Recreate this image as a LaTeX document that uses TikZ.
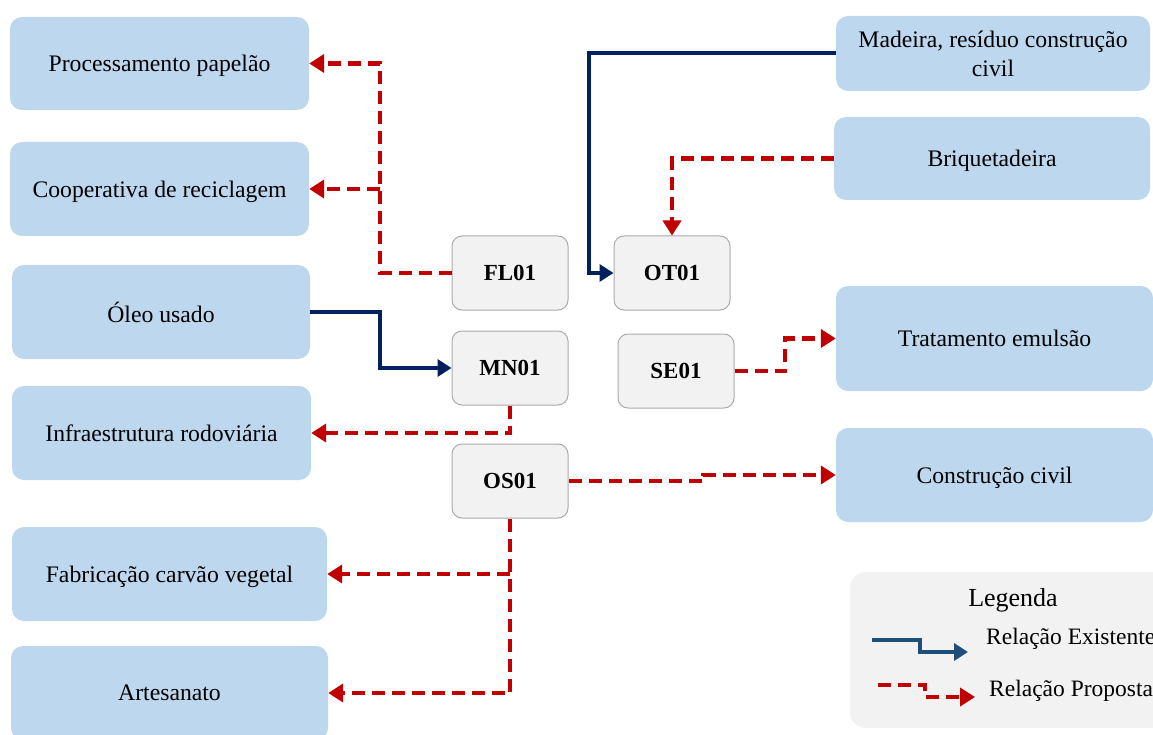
\documentclass[tikz,border=0pt]{standalone}
\usepackage{fontspec}
\setmainfont{Liberation Serif}
\usetikzlibrary{arrows.meta}
\definecolor{boxblue}{HTML}{BDD7EE}
\definecolor{boxgray}{HTML}{F2F2F2}
\definecolor{bordergray}{HTML}{ABABAB}
\definecolor{propred}{HTML}{C00000}
\definecolor{existblue}{HTML}{002060}
\definecolor{legblue}{HTML}{1F4E79}
\tikzset{
  bluebox/.style={rectangle, rounded corners=12pt, fill=boxblue, draw=none, align=center,
    font=\fontsize{23.7}{29}\selectfont, inner sep=0pt, text depth=0pt},
  codebox/.style={rectangle, rounded corners=10pt, fill=boxgray, draw=bordergray, line width=1pt,
    minimum width=116pt, minimum height=74pt, font=\fontsize{23}{27}\selectfont\bfseries, inner sep=0pt},
  prop/.style={draw=propred, line width=4.5pt, dash pattern=on 13pt off 7pt,
    -{Triangle[length=15pt,width=18pt]}},
  propnoarrow/.style={draw=propred, line width=4.5pt, dash pattern=on 13pt off 7pt},
  exist/.style={draw=existblue, line width=4pt, line join=miter,
    -{Triangle[length=14pt,width=17pt]}},
}
\begin{document}
\begin{tikzpicture}[x=1pt,y=-1pt]
\useasboundingbox (0,0) rectangle (1153,735);
\clip (0,0) rectangle (1153,735);
% left blue boxes
\node[bluebox, minimum width=299pt, minimum height=93pt] (pp) at (159.5,63.5) {Processamento papelão};
\node[bluebox, minimum width=299pt, minimum height=94pt] (coop) at (159.5,189) {Cooperativa de reciclagem};
\node[bluebox, minimum width=298pt, minimum height=94pt] (oleo) at (161,312) {Óleo usado};
\node[bluebox, minimum width=299pt, minimum height=94pt] (infra) at (161.5,433) {Infraestrutura rodoviária};
\node[bluebox, minimum width=315pt, minimum height=94pt] (carv) at (169.5,574) {Fabricação carvão vegetal};
\node[bluebox, minimum width=317pt, minimum height=94pt] (art) at (169.5,693) {Artesanato};
% right blue boxes
\node[bluebox, minimum width=314pt, minimum height=75pt, text depth=-3pt] (mad) at (993,53.5) {Madeira, resíduo construção\\civil};
\node[bluebox, minimum width=316pt, minimum height=83pt] (briq) at (992,158.5) {Briquetadeira};
\node[bluebox, minimum width=317pt, minimum height=105pt] (trat) at (994.5,338.5) {Tratamento emulsão};
\node[bluebox, minimum width=317pt, minimum height=94pt] (constr) at (994.5,475) {Construção civil};
% code boxes
\node[codebox] (fl) at (510,273) {FL01};
\node[codebox] (ot) at (672,273) {OT01};
\node[codebox] (mn) at (510,368) {MN01};
\node[codebox] (se) at (676,371) {SE01};
\node[codebox] (os) at (510,481) {OS01};
% connectors
\coordinate (jfl) at (380,273);
\draw[prop] (fl.west) -- (jfl) |- (pp.east);
\draw[prop] (jfl |- coop.east) -- (coop.east);
\coordinate (jmad) at (589,54);
\draw[exist] (mad.west) -- (mad.west -| jmad) |- (ot.west);
\draw[prop] (briq.west) -| (ot.north);
\coordinate (jol) at (380,312);
\draw[exist] (oleo.east) -- (oleo.east -| jol) |- (mn.west);
\draw[prop] (mn.south) |- (infra.east);
\coordinate (jse) at (785,371);
\draw[prop] (se.east) -- (se.east -| jse) |- (trat.west);
\coordinate (jos) at (703,481);
\draw[prop] (os.east) -- (os.east -| jos) |- (constr.west);
\draw[prop] (os.south) |- (art.east);
\draw[prop] (os.south |- carv.east) -- (carv.east);
% legend
\node[rectangle, rounded corners=16pt, fill=boxgray, minimum width=320pt, minimum height=156pt] (leg) at (1010,650) {};
\node[font=\fontsize{26}{30}\selectfont] (legt) at (1013,600) {Legenda};
\coordinate (lb1) at (872,640);
\coordinate (lb2) at (968,652);
\draw[draw=legblue, line width=4pt, -{Triangle[length=14pt,width=17pt]}] (lb1) -- (920,640) -- (920,652) -- (lb2);
\node[anchor=west, font=\fontsize{23.5}{28}\selectfont, inner sep=0pt] (lbt) at (986,639) {Relação Existente};
\coordinate (lr1) at (878,685);
\coordinate (lr2) at (975,697);
\draw[propnoarrow, -{Triangle[length=15pt,width=18pt]}] (lr1) -- (925,685) -- (925,697) -- (lr2);
\node[anchor=west, font=\fontsize{23.5}{28}\selectfont, inner sep=0pt] (lrt) at (989,691) {Relação Proposta};
\end{tikzpicture}
\end{document}
